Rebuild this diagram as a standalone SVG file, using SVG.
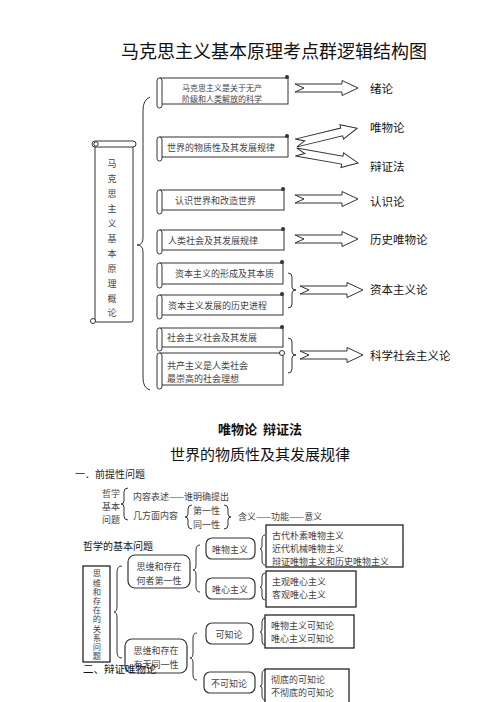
<svg xmlns="http://www.w3.org/2000/svg" width="496" height="702" viewBox="0 0 496 702">
<style>
text{font-family:"Noto Sans CJK SC","Liberation Sans",sans-serif;fill:#222}
.s{font-size:9px;fill:#444}
.s8{font-size:8px;fill:#444}
.lab{font-size:11.5px;fill:#111}
.body{fill:#fff;stroke:#333;stroke-width:1}
.roll{fill:#fff;stroke:#333;stroke-width:1}
.br{fill:none;stroke:#333;stroke-width:1}
.box{fill:#fff;stroke:#111;stroke-width:1.2}
.rbox{fill:#fff;stroke:#333;stroke-width:1.2}
.m{dominant-baseline:central}
</style>
<defs>
<path id="arr" d="M0,-4 L47,-4 L47,-7.5 L63,0 L47,7.5 L47,4 L0,4 L9,0 Z" fill="#fff" stroke="#333" stroke-width="1"/>
</defs>
<rect width="496" height="702" fill="#fff"/>
<text x="274" y="50" font-size="18" text-anchor="middle" class="m" style="fill:#111">马克思主义基本原理考点群逻辑结构图</text>

<g id="left-scroll">
<rect class="body" x="95" y="145" width="38" height="177" rx="2"/>
<rect class="roll" x="92" y="141" width="44" height="6" rx="3"/>
<circle cx="96" cy="144" r="2.2" fill="#fff" stroke="#333"/>
<circle cx="93" cy="321" r="2.5" fill="#fff" stroke="#333"/>
<g text-anchor="middle">
<text x="112" y="163" class="s m">马</text><text x="112" y="178" class="s m">克</text><text x="112" y="193" class="s m">思</text><text x="112" y="208" class="s m">主</text><text x="112" y="223" class="s m">义</text><text x="112" y="238" class="s m">基</text><text x="112" y="253" class="s m">本</text><text x="112" y="268" class="s m">原</text><text x="112" y="283" class="s m">理</text><text x="112" y="298" class="s m">概</text><text x="112" y="312" class="s m">论</text>
</g>
</g>

<g id="connectors">
<path class="br" d="M150,97 Q143,100 143,110 L143,238 Q143,245 137,245 Q143,245 143,252 L143,378 Q143,388 150,390"/>
<path class="br" d="M288,273 Q292,273 292,277 L292,287 Q292,290 296,290 Q292,290 292,293 L292,304 Q292,308 288,308"/>
<path class="br" d="M288,338 Q292,338 292,342 L292,352 Q292,355 296,355 Q292,355 292,358 L292,369 Q292,373 288,373"/>
<use href="#arr" transform="translate(295,88)"/>
<use href="#arr" transform="translate(296,143) rotate(-13.6)"/>
<use href="#arr" transform="translate(296,152) rotate(10)"/>
<use href="#arr" transform="translate(295,199)"/>
<use href="#arr" transform="translate(295,239)"/>
<use href="#arr" transform="translate(300,290)"/>
<use href="#arr" transform="translate(300,355)"/>
</g>

<g id="s1">
<rect class="body" x="160" y="78" width="128" height="26"/>
<rect class="roll" x="157" y="78" width="5" height="30" rx="2.5"/>
<circle cx="287" cy="77" r="2" fill="#333"/>
<text x="222" y="87" class="s8 m" text-anchor="middle">马克思主义是关于无产</text>
<text x="222" y="98" class="s8 m" text-anchor="middle">阶级和人类解放的科学</text>
</g>
<g id="s2">
<rect class="body" x="160" y="137" width="128" height="20"/>
<rect class="roll" x="157" y="137" width="5" height="24" rx="2.5"/>
<circle cx="287" cy="136" r="2" fill="#333"/>
<text x="167" y="147" class="s m">世界的物质性及其发展规律</text>
</g>
<g id="s3">
<rect class="body" x="160" y="190" width="124" height="20"/>
<rect class="roll" x="157" y="190" width="5" height="24" rx="2.5"/>
<circle cx="283" cy="189" r="2" fill="#333"/>
<text x="175" y="200" class="s m">认识世界和改造世界</text>
</g>
<g id="s4">
<rect class="body" x="160" y="230" width="124" height="20"/>
<rect class="roll" x="157" y="230" width="5" height="24" rx="2.5"/>
<circle cx="283" cy="229" r="2" fill="#333"/>
<text x="168" y="240" class="s m">人类社会及其发展规律</text>
</g>
<g id="s5">
<rect class="body" x="160" y="263" width="123" height="21"/>
<rect class="roll" x="157" y="263" width="5" height="25" rx="2.5"/>
<circle cx="282" cy="262" r="2" fill="#333"/>
<text x="175" y="273" class="s m">资本主义的形成及其本质</text>
</g>
<g id="s6">
<rect class="body" x="160" y="295" width="123" height="20"/>
<rect class="roll" x="157" y="295" width="5" height="24" rx="2.5"/>
<circle cx="282" cy="294" r="2" fill="#333"/>
<text x="168" y="305" class="s m">资本主义发展的历史进程</text>
</g>
<g id="s7">
<rect class="body" x="160" y="328" width="123" height="19"/>
<rect class="roll" x="157" y="328" width="5" height="23" rx="2.5"/>
<circle cx="282" cy="327" r="2" fill="#333"/>
<text x="167" y="337" class="s m">社会主义社会及其发展</text>
</g>
<g id="s8">
<rect class="body" x="160" y="353" width="123" height="32"/>
<rect class="roll" x="157" y="353" width="5" height="36" rx="2.5"/>
<circle cx="282" cy="353" r="2.5" fill="#fff" stroke="#333"/>
<text x="167" y="365" class="s m">共产主义是人类社会</text>
<text x="167" y="378" class="s m">最崇高的社会理想</text>
</g>

<g id="labels">
<text x="370" y="88" class="lab m">绪论</text>
<text x="370" y="127" class="lab m">唯物论</text>
<text x="370" y="166" class="lab m">辩证法</text>
<text x="370" y="201" class="lab m">认识论</text>
<text x="370" y="239" class="lab m">历史唯物论</text>
<text x="370" y="289" class="lab m">资本主义论</text>
<text x="370" y="355" class="lab m">科学社会主义论</text>
</g>

<text x="260" y="428" font-size="13" font-weight="bold" text-anchor="middle" class="m" style="fill:#111;white-space:pre">唯物论  辩证法</text>
<text x="260" y="453" font-size="15" text-anchor="middle" class="m" style="fill:#111">世界的物质性及其发展规律</text>
<text x="75" y="473" font-size="10" class="m">一．前提性问题</text>

<g id="premise">
<text x="102" y="493" class="s m">哲学</text>
<text x="102" y="506" class="s m">基本</text>
<text x="102" y="519" class="s m">问题</text>
<path class="br" d="M128,488 Q124,488 124,492 L124,501 Q124,504 121,504 Q124,504 124,507 L124,516 Q124,520 128,520"/>
<text x="133" y="496" class="s m">内容表述——谁明确提出</text>
<text x="133" y="515" class="s m">几方面内容</text>
<path class="br" d="M192,505 Q188,505 188,509 L188,514 Q188,517 185,517 Q188,517 188,520 L188,525 Q188,529 192,529"/>
<text x="193" y="510" class="s m">第一性</text>
<text x="193" y="524" class="s m">同一性</text>
<path class="br" d="M224,505 Q228,505 228,509 L228,514 Q228,517 231,517 Q228,517 228,520 L228,525 Q228,529 224,529"/>
<text x="238" y="516" class="s m">含义——功能——意义</text>
</g>

<text x="83" y="545" font-size="10" class="m" style="fill:#111">哲学的基本问题</text>

<g id="relation">
<rect class="box" x="83" y="566" width="27" height="96"/>
<text x="97" y="569" writing-mode="tb" font-size="8.3" letter-spacing="0.9" style="fill:#444">思维和存在的关系问题</text>
</g>
<g id="connectors2">
<path class="br" d="M122,566 Q117,566 117,572 L117,606 Q117,612 114,612 Q117,612 117,618 L117,652 Q117,658 122,658"/>
<path class="br" d="M200,545 Q196,545 196,550 L196,565 Q196,570 193,570 Q196,570 196,575 L196,587 Q196,592 200,592"/>
<path class="br" d="M197,633 Q193,633 193,638 L193,653 Q193,658 190,658 Q193,658 193,663 L193,675 Q193,680 197,680"/>
<path class="br" d="M265,535 Q262,535 262,540 L262,546 Q262,549 260,549 Q262,549 262,552 L262,560 Q262,565 265,565"/>
<path class="br" d="M265,573 Q262,573 262,577 L262,584 Q262,587 260,587 Q262,587 262,590 L262,596 Q262,600 265,600"/>
<path class="br" d="M265,618 Q262,618 262,622 L262,629 Q262,632 260,632 Q262,632 262,635 L262,641 Q262,645 265,645"/>
<path class="br" d="M265,670 Q262,670 262,675 L262,683 Q262,686 260,686 Q262,686 262,689 L262,695 Q262,700 265,700"/>
</g>

<g id="first">
<rect class="rbox" x="128" y="555" width="62" height="33" rx="7"/>
<text x="159" y="566" class="s m" text-anchor="middle">思维和存在</text>
<text x="159" y="580" class="s m" text-anchor="middle">何者第一性</text>
</g>
<g id="materialism">
<rect class="rbox" x="206" y="538" width="49" height="21" rx="6"/>
<text x="230" y="549" class="s m" text-anchor="middle">唯物主义</text>
</g>
<g id="idealism">
<rect class="rbox" x="206" y="578" width="49" height="21" rx="6"/>
<text x="230" y="589" class="s m" text-anchor="middle">唯心主义</text>
</g>
<g id="mat-list">
<rect class="box" x="266" y="525" width="137" height="42"/>
<text x="272" y="535" class="s m">古代朴素唯物主义</text>
<text x="272" y="548" class="s m">近代机械唯物主义</text>
<text x="272" y="561" class="s m">辩证唯物主义和历史唯物主义</text>
</g>
<g id="ide-list">
<rect class="box" x="266" y="571" width="90" height="36"/>
<text x="272" y="581" class="s m">主观唯心主义</text>
<text x="272" y="594" class="s m">客观唯心主义</text>
</g>
<g id="identity">
<rect class="rbox" x="125" y="639" width="62" height="34" rx="7"/>
<text x="156" y="650" class="s m" text-anchor="middle">思维和存在</text>
<text x="156" y="664" class="s m" text-anchor="middle">有无同一性</text>
</g>
<text x="83" y="668" font-size="10.5" class="m" style="fill:#111">二、辩证唯物论</text>
<g id="knowable">
<rect class="rbox" x="206" y="623" width="47" height="21" rx="6"/>
<text x="229" y="634" class="s m" text-anchor="middle">可知论</text>
</g>
<g id="unknowable">
<rect class="rbox" x="204" y="672" width="51" height="21" rx="6"/>
<text x="229" y="683" class="s m" text-anchor="middle">不可知论</text>
</g>
<g id="know-list">
<rect class="box" x="265" y="615" width="89" height="33"/>
<text x="271" y="625" class="s m">唯物主义可知论</text>
<text x="271" y="638" class="s m">唯心主义可知论</text>
</g>
<g id="unknow-list">
<rect class="box" x="265" y="669" width="84" height="40"/>
<text x="271" y="679" class="s m">彻底的可知论</text>
<text x="271" y="692" class="s m">不彻底的可知论</text>
</g>
</svg>
